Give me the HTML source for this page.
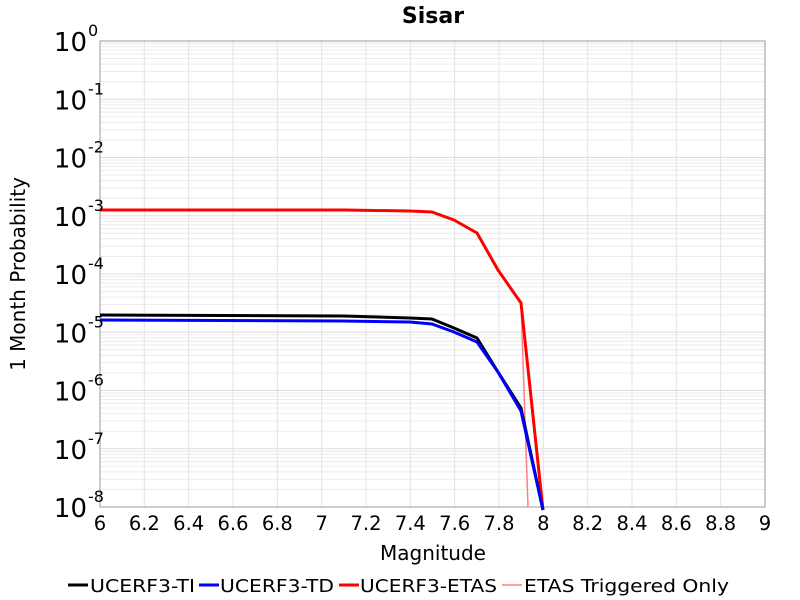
<!DOCTYPE html>
<html><head><style>body{margin:0;background:#fff}svg{display:block}</style></head><body>
<svg id="s" width="800" height="600" xmlns="http://www.w3.org/2000/svg" font-family="DejaVu Sans, sans-serif">
<rect width="800" height="600" fill="#fff"/>
<g id="grid"></g>
<rect x="100" y="41" width="665" height="466" fill="none" stroke="#999" stroke-width="1"/>
<g fill="none" stroke-linejoin="round">
<polyline stroke="#ff8080" stroke-width="1.5" points="521,303 528,507"/>
<polyline stroke="#ff0000" stroke-width="3" points="100,210 345,210 410,211 432,212 454,220 477,233 498,270 521,303 543,510"/>
<polyline stroke="#000" stroke-width="3" points="100,315 343,316 410,318 432,319 454,328 477,338 498,372 521,408 543,510"/>
<polyline stroke="#0000ff" stroke-width="3" points="100,320 343,321 410,322 432,324 454,332 477,342 498,372 521,411 543,510"/>
</g>
<g id="lab" fill="#000"></g>
<text x="433" y="23" font-size="22" font-weight="bold" text-anchor="middle">Sisar</text>
<text x="433" y="560" font-size="20" text-anchor="middle">Magnitude</text>
<text transform="translate(25,274) rotate(-90)" font-size="20" text-anchor="middle">1 Month Probability</text>
<g font-size="18">
<line x1="68" y1="585" x2="88" y2="585" stroke="#000" stroke-width="3"/><text x="90" y="592" textLength="105" lengthAdjust="spacingAndGlyphs">UCERF3-TI</text>
<line x1="199" y1="585" x2="219" y2="585" stroke="#00f" stroke-width="3"/><text x="220" y="592" textLength="114" lengthAdjust="spacingAndGlyphs">UCERF3-TD</text>
<line x1="339" y1="585" x2="359" y2="585" stroke="#f00" stroke-width="3"/><text x="360" y="592" textLength="137" lengthAdjust="spacingAndGlyphs">UCERF3-ETAS</text>
<line x1="502" y1="585" x2="522" y2="585" stroke="#ff8080" stroke-width="1.5"/><text x="524" y="592" textLength="205" lengthAdjust="spacingAndGlyphs">ETAS Triggered Only</text>
</g>
</svg>
<script>
var ns="http://www.w3.org/2000/svg",g=document.getElementById("grid"),L=document.getElementById("lab");
function el(p,t,a,txt){var e=document.createElementNS(ns,t);for(var k in a)e.setAttribute(k,a[k]);if(txt!=null)e.textContent=txt;p.appendChild(e);return e;}
var dec=58.25;
for(var d=0;d<8;d++){for(var m=1;m<10;m++){var y=41+dec*(d+1)-dec*Math.log10(m);el(g,"line",{x1:100,x2:765,y1:y,y2:y,stroke:m==1?"#ddd":"#ececec","stroke-width":1});}}
for(var i=0;i<=15;i++){var x=100+i*665/15;el(g,"line",{x1:x,x2:x,y1:41,y2:507,stroke:"#e4e4e4","stroke-width":1});
var v=(6+i*0.2);var s=(Math.abs(v-Math.round(v))<1e-6)?String(Math.round(v)):v.toFixed(1);
el(L,"text",{x:x,y:530,"font-size":19.5,"text-anchor":"middle"},s);}
for(var d=0;d<=8;d++){var y=41+dec*d;el(L,"text",{x:87,y:y+10,"font-size":26,"text-anchor":"end"},"10");
el(L,"text",{x:88,y:y-5,"font-size":16,"text-anchor":"start"},d==0?"0":"-"+d);}
</script>
</body></html>
